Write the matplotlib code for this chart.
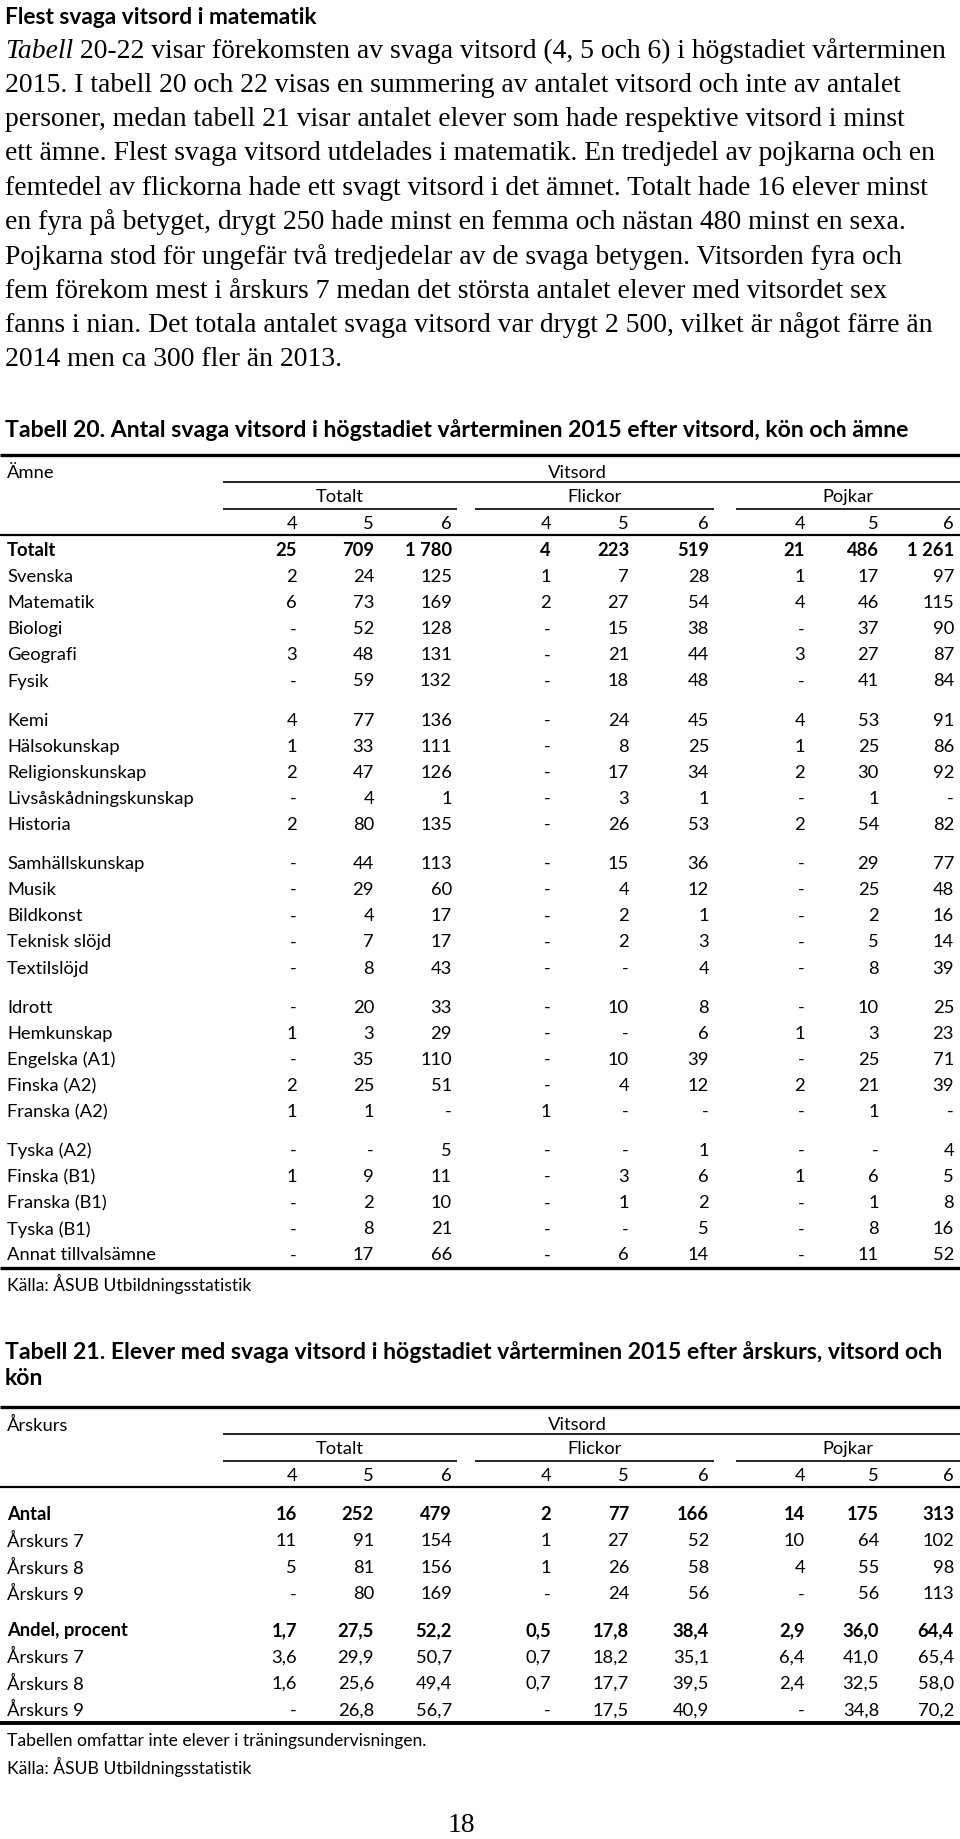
import matplotlib
matplotlib.use("Agg")
import matplotlib.pyplot as plt

W, H = 960, 1840
INK = "#000000"
SANS = "Lato"
SERIF = "Liberation Serif"

# --- text -----------------------------------------------------------------
heading = "Flest svaga vitsord i matematik"
para_italic = "Tabell"
para_lines = [
    " 20-22 visar förekomsten av svaga vitsord (4, 5 och 6) i högstadiet vårterminen",
    "2015. I tabell 20 och 22 visas en summering av antalet vitsord och inte av antalet",
    "personer, medan tabell 21 visar antalet elever som hade respektive vitsord i minst",
    "ett ämne. Flest svaga vitsord utdelades i matematik. En tredjedel av pojkarna och en",
    "femtedel av flickorna hade ett svagt vitsord i det ämnet. Totalt hade 16 elever minst",
    "en fyra på betyget, drygt 250 hade minst en femma och nästan 480 minst en sexa.",
    "Pojkarna stod för ungefär två tredjedelar av de svaga betygen. Vitsorden fyra och",
    "fem förekom mest i årskurs 7 medan det största antalet elever med vitsordet sex",
    "fanns i nian. Det totala antalet svaga vitsord var drygt 2 500, vilket är något färre än",
    "2014 men ca 300 fler än 2013.",
]

t20_title = "Tabell 20. Antal svaga vitsord i högstadiet vårterminen 2015 efter vitsord, kön och ämne"
t21_title = ["Tabell 21. Elever med svaga vitsord i högstadiet vårterminen 2015 efter årskurs, vitsord och",
             "kön"]
groups = ["Totalt", "Flickor", "Pojkar"]
grades = ["4", "5", "6"]

# --- Tabell 20 data (None = "-") -------------------------------------------
t20_labels = [
    "Totalt", "Svenska", "Matematik", "Biologi", "Geografi", "Fysik",
    "Kemi", "Hälsokunskap", "Religionskunskap", "Livsåskådningskunskap", "Historia",
    "Samhällskunskap", "Musik", "Bildkonst", "Teknisk slöjd", "Textilslöjd",
    "Idrott", "Hemkunskap", "Engelska (A1)", "Finska (A2)", "Franska (A2)",
    "Tyska (A2)", "Finska (B1)", "Franska (B1)", "Tyska (B1)", "Annat tillvalsämne",
]
t20_totalt = [
    (25, 709, 1780), (2, 24, 125), (6, 73, 169), (None, 52, 128), (3, 48, 131), (None, 59, 132),
    (4, 77, 136), (1, 33, 111), (2, 47, 126), (None, 4, 1), (2, 80, 135),
    (None, 44, 113), (None, 29, 60), (None, 4, 17), (None, 7, 17), (None, 8, 43),
    (None, 20, 33), (1, 3, 29), (None, 35, 110), (2, 25, 51), (1, 1, None),
    (None, None, 5), (1, 9, 11), (None, 2, 10), (None, 8, 21), (None, 17, 66),
]
t20_flickor = [
    (4, 223, 519), (1, 7, 28), (2, 27, 54), (None, 15, 38), (None, 21, 44), (None, 18, 48),
    (None, 24, 45), (None, 8, 25), (None, 17, 34), (None, 3, 1), (None, 26, 53),
    (None, 15, 36), (None, 4, 12), (None, 2, 1), (None, 2, 3), (None, None, 4),
    (None, 10, 8), (None, None, 6), (None, 10, 39), (None, 4, 12), (1, None, None),
    (None, None, 1), (None, 3, 6), (None, 1, 2), (None, None, 5), (None, 6, 14),
]
t20_pojkar = [
    (21, 486, 1261), (1, 17, 97), (4, 46, 115), (None, 37, 90), (3, 27, 87), (None, 41, 84),
    (4, 53, 91), (1, 25, 86), (2, 30, 92), (None, 1, None), (2, 54, 82),
    (None, 29, 77), (None, 25, 48), (None, 2, 16), (None, 5, 14), (None, 8, 39),
    (None, 10, 25), (1, 3, 23), (None, 25, 71), (2, 21, 39), (None, 1, None),
    (None, None, 4), (1, 6, 5), (None, 1, 8), (None, 8, 16), (None, 11, 52),
]
t20_breaks = [5, 10, 15, 20]

# --- Tabell 21 data ----------------------------------------------------------
t21_labels = ["Antal", "Årskurs 7", "Årskurs 8", "Årskurs 9",
              "Andel, procent", "Årskurs 7", "Årskurs 8", "Årskurs 9"]
t21_totalt = [(16, 252, 479), (11, 91, 154), (5, 81, 156), (None, 80, 169),
              (1.7, 27.5, 52.2), (3.6, 29.9, 50.7), (1.6, 25.6, 49.4), (None, 26.8, 56.7)]
t21_flickor = [(2, 77, 166), (1, 27, 52), (1, 26, 58), (None, 24, 56),
               (0.5, 17.8, 38.4), (0.7, 18.2, 35.1), (0.7, 17.7, 39.5), (None, 17.5, 40.9)]
t21_pojkar = [(14, 175, 313), (10, 64, 102), (4, 55, 98), (None, 56, 113),
              (2.9, 36.0, 64.4), (6.4, 41.0, 65.4), (2.4, 32.5, 58.0), (None, 34.8, 70.2)]
t21_decimals = [0, 0, 0, 0, 1, 1, 1, 1]
t21_breaks = [3]

source = "Källa: ÅSUB Utbildningsstatistik"
t21_note = "Tabellen omfattar inte elever i träningsundervisningen."
page_no = "18"

# --- layout ----------------------------------------------------------------
COL_RIGHT = [297, 374, 452, 551, 629, 709, 805, 879, 954]
GROUP_SPAN = [(223, 457), (475, 714), (736, 960)]
LABEL_X = 7
TAB_FS = 13.2

fig = plt.figure(figsize=(W / 100, H / 100), dpi=100, facecolor="white")
ax = fig.add_axes([0, 0, 1, 1])
ax.set_xlim(0, W)
ax.set_ylim(H, 0)
ax.axis("off")
renderer = fig.canvas.get_renderer()


def width(t):
    return t.get_window_extent(renderer).width


def fit(t, target):
    t.set_fontsize(t.get_fontsize() * target / width(t))
    return t.get_fontsize()


def fmt(v, dec=0):
    if v is None:
        return "-"
    if dec:
        return f"{v:.{dec}f}".replace(".", ",")
    return f"{v:,}".replace(",", " ")


def rule(y, x0=0, x1=W, lw=1.0):
    ax.plot([x0, x1], [y, y], color=INK, lw=lw, solid_capstyle="butt")


def header(top, stub):
    rule(top, lw=2.4)
    ax.text(LABEL_X, top + 17, stub, fontsize=TAB_FS, family=SANS, va="center")
    ax.text(577, top + 17, "Vitsord", fontsize=TAB_FS, family=SANS, va="center", ha="center")
    rule(top + 27, GROUP_SPAN[0][0], W, lw=1.2)
    for g, (a, b) in zip(groups, GROUP_SPAN):
        ax.text((a + b) / 2, top + 41, g, fontsize=TAB_FS, family=SANS, va="center", ha="center")
        rule(top + 54, a, b, lw=1.2)
    for k, x in enumerate(COL_RIGHT):
        ax.text(x, top + 68, grades[k % 3], fontsize=TAB_FS, family=SANS, va="center", ha="right")
    rule(top + 80, lw=1.6)


def body(y0, step, gap, breaks, labels, cols, decs, bold_rows):
    ys = []
    y = y0
    for i in range(len(labels)):
        ys.append(y)
        y += step + (gap if i in breaks else 0)
    for i, lab in enumerate(labels):
        wt = "bold" if i in bold_rows else "normal"
        ax.text(LABEL_X, ys[i], lab, fontsize=TAB_FS, family=SANS, weight=wt, va="center")
        vals = cols[0][i] + cols[1][i] + cols[2][i]
        for x, v in zip(COL_RIGHT, vals):
            ax.text(x, ys[i], fmt(v, decs[i]), fontsize=TAB_FS, family=SANS, weight=wt,
                    va="center", ha="right")
    return ys


# heading + paragraph
h = ax.text(5, 17, heading, family=SANS, weight="bold", fontsize=16, va="center")
fit(h, 312)

probe = ax.text(5, -100, "Tabell" + para_lines[0], family=SERIF, fontsize=18)
pfs = fit(probe, 943)
probe.remove()
for i, line in enumerate(para_lines):
    y = 51 + 34.3 * i
    x = 5
    if i == 0:
        it = ax.text(x, y, para_italic, family=SERIF, style="italic", fontsize=pfs, va="center")
        x += width(it)
    ax.text(x, y, line, family=SERIF, fontsize=pfs, va="center")

# Tabell 20
tt = ax.text(5, 430, t20_title, family=SANS, weight="bold", fontsize=15, va="center")
tfs = fit(tt, 905)
header(456, "Ämne")
ys = body(551, 26.1, 13, t20_breaks, t20_labels, (t20_totalt, t20_flickor, t20_pojkar),
          [0] * len(t20_labels), {0})
rule(ys[-1] + 14, lw=2.4)
s1 = ax.text(LABEL_X, 1284, source, family=SANS, fontsize=11, va="center")
sfs = fit(s1, 243)

# Tabell 21
ax.text(5, 1352, t21_title[0], family=SANS, weight="bold", fontsize=tfs, va="center")
ax.text(5, 1379, t21_title[1], family=SANS, weight="bold", fontsize=tfs, va="center")
header(1408, "Årskurs")
ys = body(1515, 26.5, 10, t21_breaks, t21_labels, (t21_totalt, t21_flickor, t21_pojkar),
          t21_decimals, {0, 4})
rule(ys[-1] + 13, lw=2.8)
ax.text(LABEL_X, 1741, t21_note, family=SANS, fontsize=sfs, va="center")
ax.text(LABEL_X, 1767, source, family=SANS, fontsize=sfs, va="center")

ax.text(461, 1826, page_no, family=SERIF, fontsize=pfs, va="center", ha="center")

fig.savefig("out.png", dpi=100, facecolor="white")
